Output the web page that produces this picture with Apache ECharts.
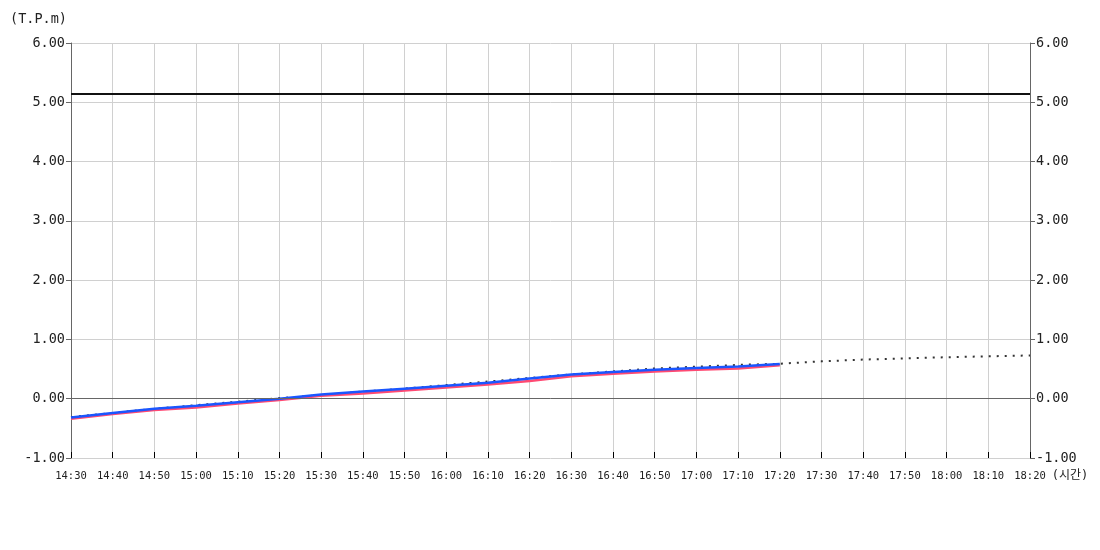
<!DOCTYPE html>
<html>
<head>
<meta charset="utf-8">
<script src="https://cdn.jsdelivr.net/npm/echarts@6/dist/echarts.min.js"></script>
<style>
  html, body { margin: 0; padding: 0; background: #fff; }
  #container { width: 1100px; height: 550px; }
</style>
</head>
<body>
<div id="container"></div>
<script>
// 시간축 (10분 간격)
var times = ['14:30','14:40','14:50','15:00','15:10','15:20','15:30','15:40','15:50','16:00','16:10','16:20',
             '16:30','16:40','16:50','17:00','17:10','17:20','17:30','17:40','17:50','18:00','18:10','18:20'];
// 실측 (파랑)
var blueValues = [-0.315,-0.24,-0.17,-0.12,-0.06,0.0,0.07,0.12,0.17,0.22,0.27,0.34,0.41,0.45,0.49,0.52,0.545,0.585];
// 실측 (빨강)
var redValues = [-0.34,-0.26,-0.19,-0.15,-0.08,-0.02,0.05,0.09,0.14,0.19,0.24,0.30,0.38,0.42,0.46,0.49,0.51,0.565];
// 예측 (점선)
var forecastValues = [-0.31,-0.24,-0.17,-0.11,-0.05,0.01,0.06,0.12,0.17,0.23,0.29,0.35,0.41,0.46,0.51,0.54,0.57,0.59,
                      0.63,0.66,0.68,0.70,0.715,0.73];
// 기준선
var limitValue = 5.15;
var yTicks = [-1, 6, 1];

var fontMono = "'DejaVu Sans Mono', 'Noto Sans CJK KR', monospace";

var dom = document.getElementById('container');
var myChart = echarts.init(dom);

function yAxisCfg(pos) {
    return {
        type: 'value',
        position: pos,
        min: yTicks[0],
        max: yTicks[1],
        interval: yTicks[2],
        axisLine: { show: true, lineStyle: { color: '#666', width: 1 } },
        axisTick: { show: true, length: 5, lineStyle: { color: '#666' } },
        axisLabel: {
            color: '#222', fontSize: 13.5, fontFamily: fontMono, margin: 6,
            formatter: function (v) { return v.toFixed(2); }
        },
        splitLine: { show: pos == 'left', lineStyle: { color: '#d0d0d0', width: 1 } }
    };
}

var leftAxis = yAxisCfg('left');
leftAxis.name = '(T.P.m)';
leftAxis.nameGap = 17;
leftAxis.nameTextStyle = { color: '#222', fontSize: 13.5, fontFamily: fontMono, align: 'right', padding: [0, 4, 0, 0] };

var option = {
    animation: false,
    backgroundColor: '#fff',
    grid: { left: 71, right: 70, top: 43, bottom: 92 },
    xAxis: {
        type: 'category',
        data: times,
        boundaryGap: false,
        name: '(시간)',
        nameLocation: 'end',
        nameGap: 6,
        nameTextStyle: { color: '#222', fontSize: 12, fontFamily: fontMono, verticalAlign: 'top', padding: [12, 0, 0, 0] },
        axisLine: { show: false, onZero: false },
        axisTick: { show: true, inside: true, length: 6, alignWithLabel: true, lineStyle: { color: '#000', width: 1 } },
        axisLabel: { color: '#222', fontSize: 10.5, fontFamily: fontMono, margin: 13, interval: 0 },
        splitLine: { show: true, interval: 0, lineStyle: { color: '#d0d0d0', width: 1 } }
    },
    yAxis: [leftAxis, yAxisCfg('right')],
    series: [
        {
            name: 'forecast',
            type: 'line',
            data: forecastValues,
            symbol: 'none',
            z: 2,
            lineStyle: { color: '#333', width: 2, type: [2, 6] },
            markLine: {
                silent: true,
                symbol: 'none',
                label: { show: false },
                data: [
                    { yAxis: 0, lineStyle: { color: '#666', width: 1, type: 'solid' } },
                    { yAxis: limitValue, lineStyle: { color: '#111', width: 2, type: 'solid' } }
                ]
            }
        },
        {
            name: 'red',
            type: 'line',
            data: redValues,
            symbol: 'none',
            z: 3,
            lineStyle: { color: '#ff4a72', width: 2.5 }
        },
        {
            name: 'blue',
            type: 'line',
            data: blueValues,
            symbol: 'none',
            z: 4,
            lineStyle: { color: '#1a56ff', width: 2.5 }
        }
    ]
};

if (option && typeof option === 'object') {
    myChart.setOption(option, true);
}
</script>
</body>
</html>
